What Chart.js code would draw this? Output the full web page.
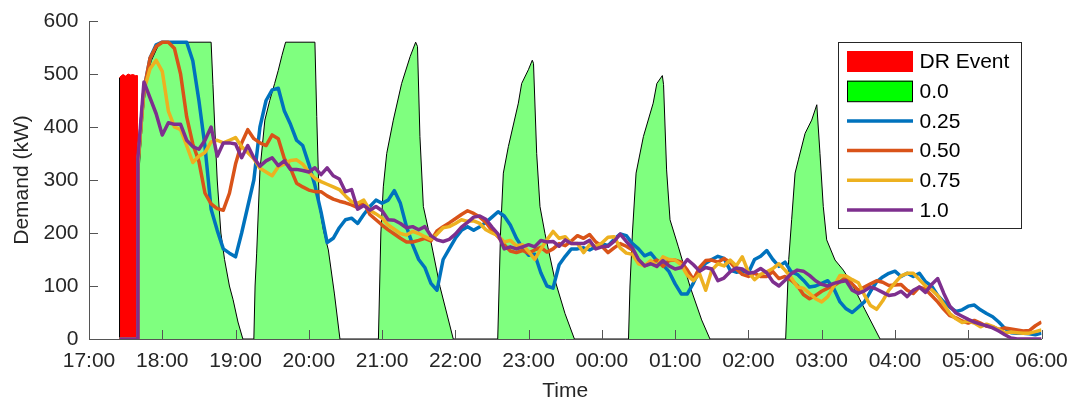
<!DOCTYPE html>
<html>
<head>
<meta charset="utf-8">
<script src="https://cdn.jsdelivr.net/npm/chart.js@4.4.1/dist/chart.umd.min.js"></script>
<style>
  html, body { margin: 0; padding: 0; background: #ffffff; }
  #wrap { width: 1072px; height: 398px; position: relative; }
</style>
</head>
<body>
<div id="wrap"><canvas id="demandChart"></canvas></div>
<script>
// Hour labels along the time axis (minutes after 17:00, one per hour)
const timeLabels = ['17:00', '18:00', '19:00', '20:00', '21:00', '22:00', '23:00',
                    '00:00', '01:00', '02:00', '03:00', '04:00', '05:00', '06:00'];
const demandTicks = [0, 100, 200, 300, 400, 500, 600];

// Demand-response event window (minutes after 17:00, kW)
const drMinutes = [25, 25, 26.5, 28, 30, 32, 34, 36, 38, 39.5, 39.5];
const drValues  = [0, 493, 497, 499, 496, 500, 498, 499, 497, 497, 0];

// Share 0.0: uncoordinated charging, drawn as a filled area
const baseMinutes = [
  41, 41.2, 44, 47, 51, 55, 58, 100, 101.5, 103, 105, 108, 111, 115, 118, 122, 126,
  135, 136, 137.3, 140, 144, 148, 152, 155, 158, 161, 185, 186.5, 188.6, 192, 196, 201, 205.5,
  237, 239, 241, 243.8, 249.2, 256, 263, 267.5, 269, 271, 273.8, 279.2, 287.4, 298.3,
  334.7, 337, 339.3, 343.4, 351.6, 354.3, 359.8, 363, 364, 366.6, 369.3, 373.4, 381.6, 389.8, 397.5,
  441.8, 443, 445, 448, 454, 462, 465, 469.5, 470.5, 473, 475.8, 482.6, 492.2, 501.7, 508.5,
  570.5, 573, 575.4, 578.2, 580.9, 586.4, 591.8, 596, 598.6, 601.3, 604.1, 610.9, 617.7, 624.6, 635.5, 647.8,
  780
];
const baseValues = [
  0, 325, 420, 489, 525, 545, 560, 560, 480, 400, 300, 200, 150, 100, 74, 32, 0,
  0, 100, 162, 319, 413, 450, 482, 507, 535, 560, 560, 420, 250, 205, 168, 85, 0,
  0, 200, 287, 350, 413, 482, 533, 560, 552, 382, 250, 193, 99, 0,
  0, 200, 313, 363, 445, 482, 508, 526, 520, 350, 250, 199, 111, 48, 0,
  0, 100, 200, 313, 382, 445, 482, 497, 480, 319, 225, 174, 99, 36, 0,
  0, 150, 225, 313, 338, 388, 413, 442, 350, 250, 187, 149, 130, 105, 55, 0,
  0
];

// Sample times for the coordinated cases: DR start, DR end, then every 5 minutes 17:40 .. 06:00
const sampleMinutes = [25, 39.5].concat(Array.from({ length: 149 }, (_, i) => 40 + 5 * i));

// Demand per share (kW); each row after the first two zeros is one hour of 5-minute samples
const share025 = [0, 0,
  330, 470, 530, 555, 560, 560, 560, 560, 560, 525, 450, 363,
  245, 205, 170, 162, 155, 200, 250, 300, 400, 450, 470, 473,
  430, 405, 375, 365, 330, 290, 240, 182, 190, 210, 225, 228,
  218, 235, 250, 262, 256, 262, 280, 256, 212, 178, 150, 135,
  105, 92, 150, 170, 190, 205, 212, 205, 212, 220, 230, 240,
  232, 215, 190, 172, 158, 160, 125, 100, 96, 140, 156, 170,
  170, 172, 168, 174, 180, 176, 188, 198, 195, 180, 170, 157,
  162, 148, 140, 127, 104, 85, 85, 106, 130, 143, 150, 156,
  152, 130, 126, 128, 125, 150, 156, 167, 150, 137, 145, 127,
  122, 111, 98, 100, 105, 110, 95, 70, 57, 50, 60, 70,
  90, 108, 117, 124, 128, 118, 124, 118, 124, 108, 100, 82,
  70, 60, 52, 55, 62, 64, 55, 48, 42, 32, 20, 12,
  11, 11, 10, 8, 11];

const share050 = [0, 0,
  330, 470, 530, 552, 560, 560, 548, 500, 419, 368, 335, 275,
  255, 246, 243, 275, 330, 370, 395, 378, 370, 365, 385, 378,
  340, 322, 294, 287, 281, 278, 278, 270, 264, 260, 257, 253,
  248, 258, 235, 225, 215, 206, 198, 190, 183, 183, 186, 190,
  185, 204, 212, 219, 227, 235, 242, 237, 230, 220, 205, 193,
  178, 166, 163, 167, 162, 168, 173, 164, 170, 180, 176, 185,
  195, 190, 197, 183, 175, 163, 172, 180, 175, 168, 148, 138,
  143, 149, 137, 148, 149, 145, 130, 112, 135, 148, 149, 145,
  152, 145, 132, 122, 118, 124, 118, 118, 127, 114, 118, 111,
  101, 84, 76, 82, 90, 96, 101, 108, 117, 104, 92, 98,
  104, 110, 107, 101, 102, 103, 92, 86, 98, 94, 82, 70,
  56, 44, 40, 34, 30, 35, 30, 24, 23, 18, 21, 19,
  17, 15, 16, 25, 32];

const share075 = [0, 0,
  330, 470, 510, 526, 505, 430, 400, 395, 365, 333, 345, 352,
  372, 375, 370, 375, 380, 363, 352, 340, 322, 315, 308, 325,
  330, 337, 338, 330, 315, 303, 297, 292, 287, 282, 270, 259,
  256, 262, 243, 236, 228, 215, 207, 199, 196, 203, 199, 193,
  188, 198, 210, 212, 218, 225, 222, 223, 218, 206, 200, 195,
  183, 186, 176, 178, 165, 150, 170, 187, 203, 190, 193, 180,
  180, 163, 178, 175, 181, 192, 193, 172, 162, 160, 142, 138,
  148, 137, 155, 150, 149, 140, 120, 110, 123, 92, 130, 142,
  138, 149, 138, 155, 126, 112, 122, 127, 133, 142, 130, 116,
  98, 96, 86, 76, 70, 80, 100, 120, 119, 112, 106, 83,
  63, 56, 72, 92, 106, 119, 124, 124, 112, 100, 93, 82,
  65, 48, 38, 31, 34, 30, 23, 28, 24, 18, 12, 13,
  12, 11, 11, 14, 17];

const share100 = [0, 0,
  340, 485, 455, 425, 385, 408, 405, 405, 375, 363, 358, 375,
  400, 345, 370, 370, 368, 342, 365, 342, 326, 336, 342, 327,
  336, 320, 320, 318, 315, 323, 310, 323, 308, 302, 278, 282,
  245, 252, 243, 250, 242, 225, 224, 218, 210, 212, 206, 212,
  195, 187, 184, 188, 198, 211, 220, 230, 232, 226, 211, 198,
  170, 174, 170, 174, 178, 174, 186, 183, 184, 175, 187, 180,
  180, 180, 186, 170, 174, 175, 184, 198, 184, 172, 150, 138,
  142, 137, 148, 138, 132, 135, 150, 140, 128, 135, 132, 110,
  115, 127, 134, 132, 124, 126, 133, 125, 108, 100, 111, 123,
  130, 128, 120, 110, 103, 100, 105, 108, 110, 92, 86, 91,
  98, 94, 88, 82, 84, 90, 80, 92, 98, 88, 103, 114,
  86, 62, 49, 43, 37, 32, 28, 25, 21, 15, 8, 2,
  0, 0, 0, 0, 0];

const pairUp = (xs, ys) => xs.map((x, i) => ({ x: x, y: ys[i] }));

const FONT = '"Liberation Sans", Arial, Helvetica, sans-serif';
const AXIS = '#555555';
const INK = '#262626';
const TICK_IN = 9;

const lineSeries = (label, values, color, rank) => ({
  label: label,
  data: pairUp(sampleMinutes, values),
  borderColor: color,
  backgroundColor: color,
  borderWidth: 3.5,
  borderJoinStyle: 'round',
  pointRadius: 0,
  fill: false,
  tension: 0,
  legendRank: rank,
  legendKind: 'line',
  legendColor: color
});

// Tick marks pointing into the plot, placed from each scale's own tick values
const inwardTicks = {
  id: 'inwardTicks',
  afterDraw(chart) {
    const ctx = chart.ctx;
    const xs = chart.scales.x, ys = chart.scales.y;
    const area = chart.chartArea;
    ctx.save();
    ctx.strokeStyle = AXIS;
    ctx.lineWidth = 1;
    ctx.beginPath();
    xs.ticks.forEach((t) => {
      const px = Math.round(xs.getPixelForValue(t.value)) + 0.5;
      ctx.moveTo(px, area.bottom);
      ctx.lineTo(px, area.bottom - TICK_IN);
    });
    ys.ticks.forEach((t) => {
      const py = Math.round(ys.getPixelForValue(t.value)) + 0.5;
      ctx.moveTo(area.left, py);
      ctx.lineTo(area.left + TICK_IN, py);
    });
    ctx.stroke();
    ctx.restore();
  }
};

// Boxed legend in the upper right corner, items in legendRank order
const legendPanel = {
  id: 'legendPanel',
  afterDatasetsDraw(chart) {
    const ctx = chart.ctx;
    const items = chart.data.datasets.slice().sort((a, b) => a.legendRank - b.legendRank);
    const bx = 838.5, by = 42.5, bw = 183, bh = 186;
    ctx.save();
    ctx.fillStyle = '#ffffff';
    ctx.fillRect(bx, by, bw, bh);
    ctx.strokeStyle = INK;
    ctx.lineWidth = 1;
    ctx.strokeRect(bx, by, bw, bh);
    items.forEach((ds, i) => {
      const cy = 61.5 + i * 29.7;
      const sx = 847, sw = 66;
      if (ds.legendKind === 'patch') {
        ctx.fillStyle = ds.legendColor;
        ctx.fillRect(sx, cy - 10.5, sw, 21);
        if (ds.legendEdge) {
          ctx.strokeStyle = ds.legendEdge;
          ctx.lineWidth = 1;
          ctx.strokeRect(sx + 0.5, cy - 10, sw - 1, 20.5);
        }
      } else {
        ctx.strokeStyle = ds.legendColor;
        ctx.lineWidth = 3.5;
        ctx.beginPath();
        ctx.moveTo(sx, cy);
        ctx.lineTo(sx + sw, cy);
        ctx.stroke();
      }
      ctx.fillStyle = '#000000';
      ctx.font = '21px ' + FONT;
      ctx.textAlign = 'left';
      ctx.textBaseline = 'middle';
      ctx.fillText(ds.label, 919.5, cy + 1);
    });
    ctx.restore();
  }
};

new Chart(document.getElementById('demandChart'), {
  type: 'line',
  data: {
    datasets: [
      lineSeries('1.0', share100, '#7E2F8E', 5),
      lineSeries('0.75', share075, '#EDB120', 4),
      lineSeries('0.50', share050, '#D95319', 3),
      lineSeries('0.25', share025, '#0072BD', 2),
      {
        label: '0.0',
        data: pairUp(baseMinutes, baseValues),
        borderColor: '#000000',
        borderWidth: 1,
        backgroundColor: 'rgba(0, 255, 0, 0.5)',
        fill: 'origin',
        pointRadius: 0,
        tension: 0,
        legendRank: 1,
        legendKind: 'patch',
        legendColor: '#00FF00',
        legendEdge: '#000000'
      },
      {
        label: 'DR Event',
        data: pairUp(drMinutes, drValues),
        borderColor: '#FF0000',
        borderWidth: 1,
        backgroundColor: '#FF0000',
        fill: 'origin',
        pointRadius: 0,
        tension: 0,
        segment: { borderColor: (c) => (c.p0DataIndex === 0 ? '#000000' : '#FF0000') },
        legendRank: 0,
        legendKind: 'patch',
        legendColor: '#FF0000'
      }
    ]
  },
  options: {
    responsive: true,
    maintainAspectRatio: false,
    devicePixelRatio: 1,
    animation: false,
    layout: { padding: { left: 0, right: 30.5, top: 21, bottom: 0 } },
    plugins: {
      legend: { display: false },
      tooltip: { enabled: false }
    },
    scales: {
      x: {
        type: 'linear',
        min: 0,
        max: 780,
        z: 1,
        afterFit: (scale) => {
          scale.height = 59;
          scale.paddingLeft = 0;
          scale.paddingRight = 0;
        },
        afterBuildTicks: (scale) => {
          scale.ticks = timeLabels.map((_, i) => ({ value: i * 60 }));
        },
        ticks: {
          autoSkip: false,
          maxRotation: 0,
          padding: 10,
          color: INK,
          font: { family: FONT, size: 21 },
          callback: (v) => timeLabels[Math.round(v / 60)]
        },
        grid: { display: false, drawOnChartArea: false, drawTicks: false },
        border: { display: true, color: AXIS, width: 1 },
        title: {
          display: true,
          text: 'Time',
          color: INK,
          font: { family: FONT, size: 21, lineHeight: 0.67 },
          padding: { top: 0, bottom: 0 }
        }
      },
      y: {
        min: 0,
        max: 600,
        z: 1,
        afterFit: (scale) => {
          scale.width = 89;
          scale.paddingTop = 0;
          scale.paddingBottom = 0;
        },
        afterBuildTicks: (scale) => {
          scale.ticks = demandTicks.map((v) => ({ value: v }));
        },
        ticks: {
          padding: 10.5,
          color: INK,
          font: { family: FONT, size: 21 }
        },
        grid: { display: false, drawOnChartArea: false, drawTicks: false },
        border: { display: true, color: AXIS, width: 1 },
        title: {
          display: true,
          text: 'Demand (kW)',
          color: INK,
          font: { family: FONT, size: 21, lineHeight: 1 },
          padding: { top: 11.5, bottom: 0 }
        }
      }
    }
  },
  plugins: [legendPanel, inwardTicks]
});
</script>
</body>
</html>
